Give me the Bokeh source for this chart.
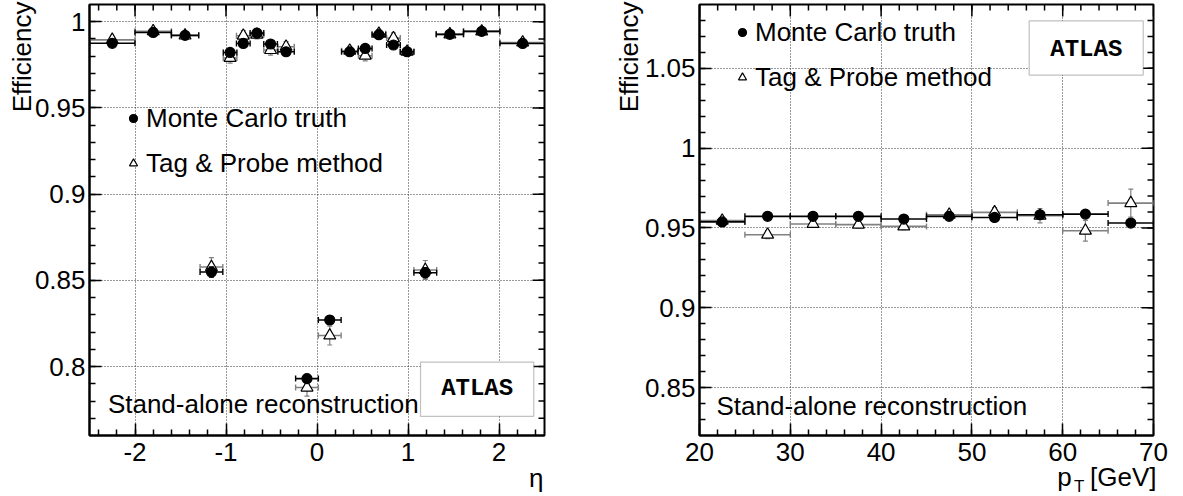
import numpy as np
from bokeh.plotting import figure
from bokeh.models import (ColumnDataSource, Legend, LegendItem, Label, BoxAnnotation,
                          FixedTicker, PrintfTickFormatter, Range1d, Title)
from bokeh.layouts import row
from bokeh.embed import file_html
from bokeh.resources import INLINE

# ---------------- data: efficiency vs eta ----------------
eta = [-2.25, -1.80, -1.45, -1.16, -0.955, -0.81, -0.66, -0.51, -0.34, -0.11,
       0.14, 0.36, 0.53, 0.68, 0.84, 0.99, 1.19, 1.46, 1.81, 2.26]
eta_hw = [0.25, 0.20, 0.15, 0.125, 0.075, 0.075, 0.075, 0.075, 0.09, 0.125,
          0.125, 0.09, 0.075, 0.075, 0.075, 0.075, 0.125, 0.15, 0.20, 0.25]
mc_eta = [0.9875, 0.9938, 0.9921, 0.8548, 0.9822, 0.9874, 0.9934, 0.9871, 0.9826, 0.7930,
          0.8270, 0.9826, 0.9845, 0.9925, 0.9865, 0.9826, 0.8544, 0.9927, 0.9944, 0.9874]
mc_eta_err = [0.0012, 0.0010, 0.0012, 0.0030, 0.0015, 0.0015, 0.0012, 0.0015, 0.0015, 0.0025,
              0.0025, 0.0015, 0.0015, 0.0012, 0.0015, 0.0015, 0.0030, 0.0012, 0.0010, 0.0012]
tp_eta = [0.9895, 0.9945, 0.9920, 0.8577, 0.9790, 0.9919, 0.9925, 0.9836, 0.9855, 0.7878,
          0.8180, 0.9832, 0.9803, 0.9930, 0.9905, 0.9826, 0.8560, 0.9927, 0.9944, 0.9880]
tp_eta_err = [0.0015, 0.0012, 0.0015, 0.0055, 0.0030, 0.0030, 0.0025, 0.0030, 0.0030, 0.0050,
              0.0055, 0.0025, 0.0030, 0.0025, 0.0030, 0.0025, 0.0055, 0.0015, 0.0012, 0.0015]

# ---------------- data: efficiency vs pT ----------------
pt = [22.5, 27.5, 32.5, 37.5, 42.5, 47.5, 52.5, 57.5, 62.5, 67.5]
pt_hw = [2.5] * 10
mc_pt = [0.9538, 0.9573, 0.9573, 0.9573, 0.9556, 0.9573, 0.9566, 0.9583, 0.9587, 0.9531]
mc_pt_err = [0.0012] * 10
tp_pt = [0.9546, 0.9458, 0.9525, 0.9521, 0.9510, 0.9583, 0.9598, 0.9577, 0.9483, 0.9656]
tp_pt_err = [0.0020, 0.0025, 0.0020, 0.0020, 0.0020, 0.0020, 0.0030, 0.0045, 0.0065, 0.0088]

legend_labels = ["Monte Carlo truth", "Tag & Probe method"]

FONT = "Liberation Sans"
FS = "26px"
GRAY = "#808080"


def add_series(p, x, xhw, y, yerr, color, marker, fill, size):
    x = np.asarray(x, float); xhw = np.asarray(xhw, float)
    y = np.asarray(y, float); yerr = np.asarray(yerr, float)
    src = ColumnDataSource(dict(x=x, y=y, xl=x - xhw, xh=x + xhw, yl=y - yerr, yh=y + yerr))
    p.segment(x0="xl", x1="xh", y0="y", y1="y", source=src, line_color=color, line_width=1.6)
    p.segment(x0="x", x1="x", y0="yl", y1="yh", source=src, line_color=color, line_width=1.2)
    p.scatter(x="xl", y="y", source=src, marker="dash", angle=np.pi / 2, size=6,
              line_color=color, line_width=1.4)
    p.scatter(x="xh", y="y", source=src, marker="dash", angle=np.pi / 2, size=6,
              line_color=color, line_width=1.4)
    p.scatter(x="x", y="yl", source=src, marker="dash", size=5, line_color=color, line_width=1.2)
    p.scatter(x="x", y="yh", source=src, marker="dash", size=5, line_color=color, line_width=1.2)
    r = p.scatter(x="x", y="y", source=src, marker=marker, size=size,
                  fill_color=fill, line_color="black", line_width=1.2)
    return r


def mirror_ticks(p, xr, yr, xmajor, xminor, ymajor, yminor):
    # ticks on the top and right frame edges (half of each dash is clipped by the frame)
    p.scatter(x=xmajor, y=[yr[1]] * len(xmajor), marker="dash", angle=np.pi / 2, size=24,
              line_color="black", line_width=1.5)
    p.scatter(x=xminor, y=[yr[1]] * len(xminor), marker="dash", angle=np.pi / 2, size=12,
              line_color="black", line_width=1.5)
    p.scatter(x=[xr[1]] * len(ymajor), y=ymajor, marker="dash", size=24,
              line_color="black", line_width=1.5)
    p.scatter(x=[xr[1]] * len(yminor), y=yminor, marker="dash", size=12,
              line_color="black", line_width=1.5)


def make_panel(xr, yr, xmajor, xminor, ymajor, yminor, border_left, frame_w, border_right):
    p = figure(frame_width=frame_w, frame_height=431,
               x_range=Range1d(*xr), y_range=Range1d(*yr),
               output_backend="svg", toolbar_location=None,
               min_border_left=border_left, min_border_right=border_right,
               min_border_top=4, min_border_bottom=61)
    p.background_fill_color = "white"
    p.border_fill_color = "white"
    p.outline_line_color = "black"
    p.outline_line_width = 2
    for ax in (p.xaxis[0], p.yaxis[0]):
        ax.axis_line_width = 2
        ax.major_tick_in = 12
        ax.major_tick_out = 0
        ax.minor_tick_in = 6
        ax.minor_tick_out = 0
        ax.major_tick_line_width = 1.5
        ax.minor_tick_line_width = 1.5
        ax.major_label_text_font = FONT
        ax.major_label_text_font_size = FS
        ax.major_label_text_color = "black"
        ax.formatter = PrintfTickFormatter(format="%g")
    p.xaxis[0].ticker = FixedTicker(ticks=xmajor, minor_ticks=xminor)
    p.yaxis[0].ticker = FixedTicker(ticks=ymajor, minor_ticks=yminor)
    p.xaxis[0].major_label_standoff = 7
    p.yaxis[0].major_label_standoff = 4
    p.xgrid.ticker = FixedTicker(ticks=xmajor)
    p.ygrid.ticker = FixedTicker(ticks=ymajor)
    for g in (p.xgrid[0], p.ygrid[0]):
        g.grid_line_color = "#333333"
        g.grid_line_dash = "1 2"
        g.grid_line_width = 1
    mirror_ticks(p, xr, yr, xmajor, xminor, ymajor, yminor)
    return p


def add_legend(p, rmc, rtp, loc):
    leg = Legend(items=[LegendItem(label=legend_labels[0], renderers=[rmc]),
                        LegendItem(label=legend_labels[1], renderers=[rtp])],
                 location=loc, padding=0, margin=0, spacing=5,
                 glyph_width=20, glyph_height=40, label_height=40, label_standoff=3,
                 label_text_font=FONT, label_text_font_size=FS, label_text_color="black",
                 background_fill_alpha=0, border_line_alpha=0)
    p.add_layout(leg)


def text_label(p, x, y, text, align="left", font=FONT, size=FS, style="normal"):
    p.add_layout(Label(x=x, y=y, text=text, text_align=align, text_baseline="middle",
                       text_font=font, text_font_size=size, text_font_style=style,
                       text_color="black"))


def side_title(p, text, side, standoff, offset=0, size=FS, valign="middle"):
    p.add_layout(Title(text=text, align="right", vertical_align=valign,
                       standoff=standoff, offset=offset, text_font=FONT,
                       text_font_size=size, text_font_style="normal",
                       text_color="black"), side)


# ---------------- left panel ----------------
XR1, YR1 = (-2.5, 2.5), (0.76, 1.01)
p1 = make_panel(XR1, YR1,
                [-2, -1, 0, 1, 2], [round(v, 2) for v in np.arange(-2.4, 2.41, 0.2)],
                [0.8, 0.85, 0.9, 0.95, 1.0], [round(v, 3) for v in np.arange(0.77, 1.0051, 0.01)],
                border_left=89, frame_w=455, border_right=35)
r1tp = add_series(p1, eta, eta_hw, tp_eta, tp_eta_err, GRAY, "triangle", "white", 12)
r1mc = add_series(p1, eta, eta_hw, mc_eta, mc_eta_err, "black", "circle", "black", 10)
add_legend(p1, r1mc, r1tp, (34, 252))
p1.add_layout(BoxAnnotation(left=1.1377, right=2.3818, bottom=0.7711, top=0.8026,
                            fill_color="white", fill_alpha=1, line_color="#333333",
                            line_width=1.2, level="annotation"))
text_label(p1, 1.76, 0.7873, "ATLAS", align="center", font="Liberation Mono", size="24px",
           style="bold")
text_label(p1, -2.298, 0.7781, "Stand-alone reconstruction")
side_title(p1, "Efficiency", "left", -13, offset=-3)
side_title(p1, "η", "below", -3, offset=1)

# ---------------- right panel ----------------
XR2, YR2 = (20, 70), (0.82, 1.09)
p2 = make_panel(XR2, YR2,
                [20, 30, 40, 50, 60, 70], list(range(22, 70, 2)),
                [0.85, 0.9, 0.95, 1.0, 1.05], [round(v, 3) for v in np.arange(0.83, 1.0851, 0.01)],
                border_left=120, frame_w=454, border_right=25)
r2tp = add_series(p2, pt, pt_hw, tp_pt, tp_pt_err, GRAY, "triangle", "white", 12)
r2mc = add_series(p2, pt, pt_hw, mc_pt, mc_pt_err, "black", "circle", "black", 10)
add_legend(p2, r2mc, r2tp, (33, 338))
p2.add_layout(BoxAnnotation(left=56.31, right=68.87, bottom=1.0458, top=1.0798,
                            fill_color="white", fill_alpha=1, line_color="#333333",
                            line_width=1.2, level="annotation"))
text_label(p2, 62.6, 1.0617, "ATLAS", align="center", font="Liberation Mono", size="24px",
           style="bold")
text_label(p2, 21.87, 0.8383, "Stand-alone reconstruction")
side_title(p2, "Efficiency", "left", -7, offset=-3)
side_title(p2, "p\u2002\u2009[GeV]", "below", -8, offset=-3, valign="bottom")
side_title(p2, "T", "below", -21, offset=69, size="17px", valign="top")

layout = row(p1, p2)
open("out.html", "w").write(file_html(layout, INLINE))
